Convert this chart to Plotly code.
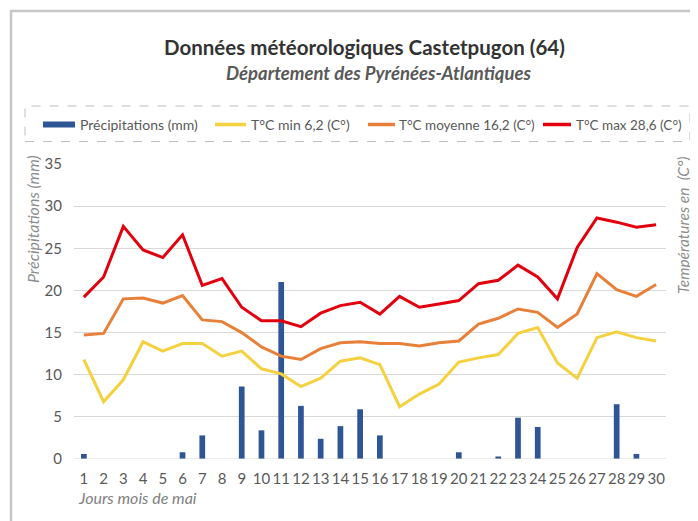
import plotly.graph_objects as go

days = list(range(1, 31))
precip = [0.6, 0, 0, 0, 0, 0.8, 2.8, 0, 8.6, 3.4, 21.0, 6.3, 2.4, 3.9, 5.9,
          2.8, 0, 0, 0, 0.8, 0, 0.3, 4.9, 3.8, 0, 0, 0, 6.5, 0.6, 0]
t_min = [11.8, 6.8, 9.4, 13.9, 12.8, 13.7, 13.7, 12.2, 12.8, 10.7, 10.1, 8.6, 9.6, 11.6, 12.0,
         11.2, 6.2, 7.7, 8.9, 11.5, 12.0, 12.4, 14.9, 15.6, 11.4, 9.6, 14.4, 15.1, 14.4, 14.0]
t_moy = [14.7, 14.9, 19.0, 19.1, 18.5, 19.4, 16.5, 16.3, 15.0, 13.3, 12.2, 11.8, 13.1, 13.8, 13.9,
         13.7, 13.7, 13.4, 13.8, 14.0, 16.0, 16.7, 17.8, 17.4, 15.6, 17.2, 22.0, 20.1, 19.3, 20.7]
t_max = [19.2, 21.6, 27.6, 24.8, 23.9, 26.6, 20.6, 21.4, 18.0, 16.4, 16.4, 15.7, 17.3, 18.2, 18.6,
         17.2, 19.3, 18.0, 18.4, 18.8, 20.8, 21.2, 23.0, 21.6, 19.0, 25.1, 28.6, 28.1, 27.5, 27.8]
y_ticks = [0, 5, 10, 15, 20, 25, 30, 35]
series_names = ["Précipitations (mm)", "T°C min 6,2 (C°)", "T°C moyenne 16,2 (C°)", "T°C max 28,6 (C°)"]
colors = ["#2E5596", "#F5D13F", "#E8803A", "#E2000F"]

# page body adds an 8px offset; figure coordinates are shifted accordingly
OFF = 8
W, H = 698 - OFF, 521 - OFF
L, R, T, B = 66, 32, 156, 62
PW, PH = W - L - R, H - T - B


def px(x):
    return (x - OFF - L) / PW


def py(y):
    return (H - B - (y - OFF)) / PH


FONT = "Lato"
fig = go.Figure()
fig.add_trace(go.Bar(x=days, y=precip, name=series_names[0],
                     marker=dict(color=colors[0], line=dict(width=0))))
for vals, name, col in zip([t_min, t_moy, t_max], series_names[1:], colors[1:]):
    fig.add_trace(go.Scatter(x=days, y=vals, name=name, mode="lines",
                             line=dict(color=col, width=3)))

shapes = [
    dict(type="line", xref="paper", yref="paper", x0=px(11), x1=px(720),
         y0=py(11), y1=py(11), line=dict(color="#C6C6C6", width=2.5)),
    dict(type="line", xref="paper", yref="paper", x0=px(11), x1=px(11),
         y0=py(10), y1=py(540), line=dict(color="#C6C6C6", width=2.5)),
    dict(type="rect", xref="paper", yref="paper", x0=px(25), x1=px(690),
         y0=py(141.5), y1=py(106), line=dict(color="#BFBFBF", width=1, dash="dash")),
    dict(type="line", xref="paper", yref="y", x0=0, x1=1, y0=0, y1=0,
         line=dict(color="#D9D9D9", width=1)),
]
# manual legend
leg_y = 124.5
shapes.append(dict(type="rect", xref="paper", yref="paper", x0=px(43), x1=px(75),
                   y0=py(leg_y + 3), y1=py(leg_y - 3), fillcolor=colors[0],
                   line=dict(width=0)))
line_segs = [(215, 246), (368, 395), (543, 571)]
for (a, b), col in zip(line_segs, colors[1:]):
    shapes.append(dict(type="line", xref="paper", yref="paper", x0=px(a), x1=px(b),
                       y0=py(leg_y), y1=py(leg_y), line=dict(color=col, width=3.5)))
text_x = [78, 249, 397, 574]
text_sizes = [14, 14, 13.5, 13.5]

annotations = [
    dict(text="<b>Données météorologiques Castetpugon (64)</b>", xref="paper", yref="paper",
         x=px(364), y=py(47), xanchor="center", yanchor="middle", showarrow=False,
         font=dict(size=20.5, color="#333333", family=FONT)),
    dict(text="<b><i>Département des Pyrénées-Atlantiques</i></b>", xref="paper", yref="paper",
         x=px(378), y=py(73), xanchor="center", yanchor="middle", showarrow=False,
         font=dict(size=18.5, color="#595959", family=FONT)),
    dict(text="<i>Précipitations (mm)</i>", xref="paper", yref="paper",
         x=px(32), y=py(219), xanchor="center", yanchor="middle", textangle=-90,
         showarrow=False, font=dict(size=16, color="#8C8C8C", family=FONT)),
    dict(text="<i>Températures en  (C°)</i>", xref="paper", yref="paper",
         x=px(683), y=py(226), xanchor="center", yanchor="middle", textangle=-90,
         showarrow=False, font=dict(size=15.5, color="#8C8C8C", family=FONT)),
    dict(text="<i>Jours mois de mai</i>", xref="paper", yref="paper",
         x=px(76), y=py(497), xanchor="left", yanchor="middle",
         showarrow=False, font=dict(size=16, color="#7F7F7F", family=FONT)),
]
for name, tx, fs in zip(series_names, text_x, text_sizes):
    annotations.append(dict(text=name, xref="paper", yref="paper", x=px(tx), y=py(leg_y),
                            xanchor="left", yanchor="middle", showarrow=False,
                            font=dict(size=fs, color="#595959", family=FONT)))

fig.update_layout(
    width=W, height=H,
    margin=dict(l=L, r=R, t=T, b=B, autoexpand=False),
    paper_bgcolor="white", plot_bgcolor="white",
    bargap=0.71,
    font=dict(family=FONT, color="#595959", size=15),
    showlegend=False,
    xaxis=dict(range=[0.5, 30.5], tickmode="array", tickvals=days,
               ticktext=[str(d) for d in days], showgrid=False, zeroline=False,
               showline=False, ticks="", tickfont=dict(size=15, color="#595959"),
               ticklabelstandoff=9, fixedrange=True),
    yaxis=dict(range=[0, 35], tickmode="array", tickvals=y_ticks,
               ticktext=[str(v) for v in y_ticks], showgrid=True, gridcolor="#D9D9D9",
               gridwidth=1, zeroline=False, showline=False, ticks="",
               tickfont=dict(size=15, color="#595959"), ticklabelstandoff=11,
               fixedrange=True),
    shapes=shapes,
    annotations=annotations,
)

fig.write_html("out.html")
